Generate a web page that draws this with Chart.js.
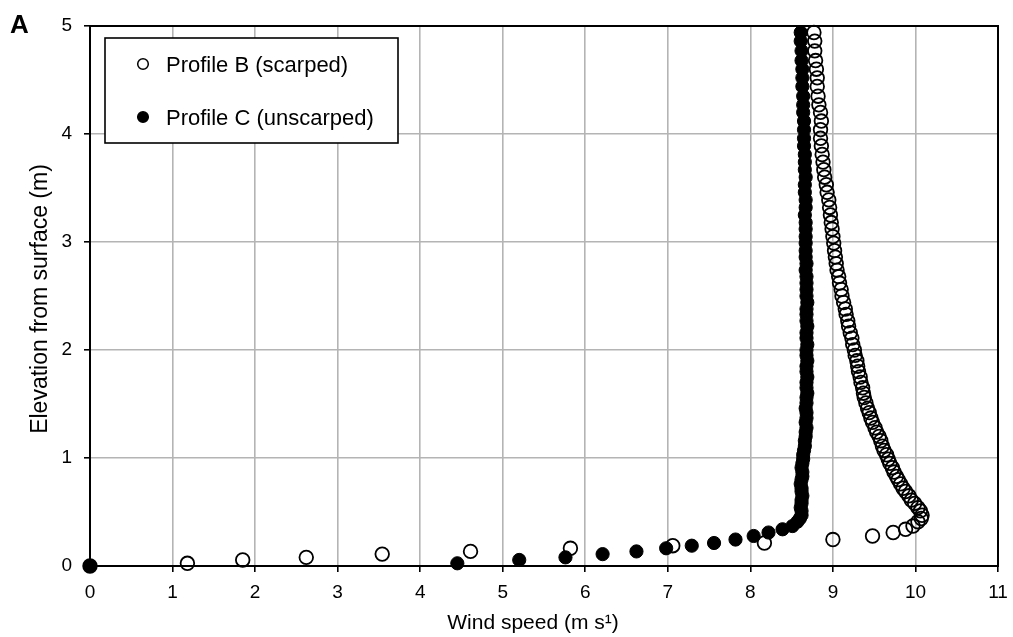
<!DOCTYPE html>
<html>
<head>
<meta charset="utf-8">
<script src="https://cdn.jsdelivr.net/npm/chart.js@4/dist/chart.umd.min.js"></script>
<style>
  html, body { margin: 0; padding: 0; background: #fff; }
  #wrap { width: 1013px; height: 637px; }
</style>
</head>
<body>
<div id="wrap"><canvas id="c" width="1013" height="637"></canvas></div>
<script>
// Measurement heights above the surface (m), shared by both profiles
const heights = [0, 0.025, 0.056, 0.08, 0.11, 0.135, 0.164, 0.188, 0.213, 0.245, 0.278, 0.31, 0.34, 0.37,
  0.41, 0.44, 0.47, 0.51, 0.54, 0.58, 0.61, 0.65, 0.69, 0.72, 0.76, 0.80, 0.83, 0.87, 0.91, 0.95,
  0.99, 1.03, 1.07, 1.11, 1.16, 1.20, 1.24, 1.28, 1.33, 1.37, 1.42, 1.46, 1.51, 1.56, 1.60, 1.65,
  1.70, 1.75, 1.80, 1.85, 1.90, 1.95, 2.00, 2.05, 2.11, 2.16, 2.22, 2.27, 2.33, 2.38, 2.44, 2.50,
  2.56, 2.62, 2.68, 2.74, 2.80, 2.86, 2.92, 2.99, 3.05, 3.12, 3.18, 3.25, 3.32, 3.39, 3.46, 3.53,
  3.60, 3.67, 3.74, 3.81, 3.89, 3.96, 4.04, 4.12, 4.20, 4.27, 4.35, 4.44, 4.52, 4.60, 4.68, 4.77,
  4.86, 4.94];

// Wind speed (m/s), Profile B (scarped)
const speedB = [0, 1.18, 1.85, 2.62, 3.54, 4.61, 5.82, 7.06, 8.17, 9.00, 9.48, 9.73, 9.88, 9.97,
  10.03, 10.07, 10.08, 10.06, 10.03, 9.99, 9.95, 9.92, 9.88, 9.85, 9.82, 9.79, 9.77, 9.74, 9.72, 9.69,
  9.67, 9.65, 9.62, 9.60, 9.58, 9.56, 9.53, 9.51, 9.48, 9.46, 9.44, 9.42, 9.40, 9.38, 9.37, 9.36,
  9.34, 9.33, 9.31, 9.30, 9.29, 9.27, 9.26, 9.24, 9.23, 9.21, 9.19, 9.18, 9.16, 9.15, 9.13, 9.11,
  9.10, 9.08, 9.07, 9.05, 9.04, 9.03, 9.02, 9.01, 9.00, 8.99, 8.98, 8.97, 8.96, 8.95, 8.93, 8.92,
  8.90, 8.89, 8.88, 8.87, 8.86, 8.85, 8.85, 8.86, 8.85, 8.83, 8.82, 8.81, 8.81, 8.80, 8.79, 8.78,
  8.78, 8.77];

// Wind speed (m/s), Profile C (unscarped)
const speedC = [0, 4.45, 5.20, 5.76, 6.21, 6.62, 6.98, 7.29, 7.56, 7.82, 8.04, 8.22, 8.39, 8.51,
  8.57, 8.60, 8.62, 8.62, 8.61, 8.62, 8.62, 8.63, 8.62, 8.62, 8.61, 8.62, 8.63, 8.63, 8.62, 8.63,
  8.64, 8.64, 8.65, 8.66, 8.66, 8.67, 8.67, 8.68, 8.67, 8.68, 8.68, 8.67, 8.68, 8.68, 8.69, 8.68,
  8.68, 8.69, 8.68, 8.68, 8.69, 8.68, 8.68, 8.69, 8.68, 8.68, 8.69, 8.68, 8.68, 8.68, 8.69, 8.68,
  8.68, 8.68, 8.68, 8.67, 8.68, 8.67, 8.67, 8.67, 8.67, 8.67, 8.67, 8.66, 8.67, 8.67, 8.66, 8.66,
  8.67, 8.66, 8.66, 8.66, 8.65, 8.65, 8.65, 8.65, 8.64, 8.64, 8.64, 8.63, 8.63, 8.63, 8.62, 8.62,
  8.61, 8.61];

const seriesLabels = ['Profile B (scarped)', 'Profile C (unscarped)'];
const xTitle = 'Wind speed (m s\u00B9)';
const yTitle = 'Elevation from surface (m)';
const panelLetter = 'A';

const FONT = '"Liberation Sans", Arial, Helvetica, sans-serif';

const toPoints = (xs) => xs.map((x, i) => ({ x: x, y: heights[i] }));

// Black frame round the plotting area
const framePlugin = {
  id: 'frame',
  beforeDatasetsDraw(chart) {
    const a = chart.chartArea, ctx = chart.ctx;
    ctx.save();
    ctx.strokeStyle = '#000';
    ctx.lineWidth = 2;
    ctx.strokeRect(a.left, a.top, a.right - a.left, a.bottom - a.top);
    ctx.restore();
  }
};

// Axis titles, panel letter and the boxed legend
const annotatePlugin = {
  id: 'annotate',
  afterDraw(chart) {
    const ctx = chart.ctx;
    ctx.save();
    ctx.fillStyle = '#000';

    ctx.font = 'bold 26px ' + FONT;
    ctx.textAlign = 'left';
    ctx.textBaseline = 'alphabetic';
    ctx.fillText(panelLetter, 10, 33);

    ctx.font = '21px ' + FONT;
    ctx.textAlign = 'center';
    ctx.fillText(xTitle, 533, 629);

    ctx.save();
    ctx.font = '23px ' + FONT;
    ctx.translate(47, 299);
    ctx.rotate(-Math.PI / 2);
    ctx.fillText(yTitle, 0, 0);
    ctx.restore();

    // legend box
    const bx = 105, by = 38, bw = 293, bh = 105;
    ctx.fillStyle = '#fff';
    ctx.fillRect(bx, by, bw, bh);
    ctx.strokeStyle = '#000';
    ctx.lineWidth = 1.6;
    ctx.strokeRect(bx, by, bw, bh);

    const rows = [72, 125];
    ctx.font = '22px ' + FONT;
    ctx.textAlign = 'left';
    chart.data.datasets.forEach((ds, i) => {
      const cy = rows[i] - 8;
      ctx.beginPath();
      ctx.arc(143, cy, 5.3, 0, Math.PI * 2);
      ctx.lineWidth = 1.5;
      ctx.strokeStyle = ds.borderColor;
      if (ds.backgroundColor !== 'rgba(0,0,0,0)') {
        ctx.fillStyle = ds.backgroundColor;
        ctx.fill();
      }
      ctx.stroke();
      ctx.fillStyle = '#000';
      ctx.fillText(ds.label, 166, rows[i]);
    });
    ctx.restore();
  }
};

const tickFont = { family: FONT, size: 19 };

new Chart(document.getElementById('c'), {
  type: 'scatter',
  data: {
    datasets: [
      {
        label: seriesLabels[0],
        data: toPoints(speedB),
        pointStyle: 'circle',
        pointRadius: 6.8,
        pointBorderWidth: 1.8,
        borderColor: '#000',
        backgroundColor: 'rgba(0,0,0,0)',
        clip: false
      },
      {
        label: seriesLabels[1],
        data: toPoints(speedC),
        pointStyle: 'circle',
        pointRadius: 6.6,
        pointBorderWidth: 1,
        borderColor: '#000',
        backgroundColor: '#000',
        clip: false
      }
    ]
  },
  options: {
    responsive: false,
    devicePixelRatio: 1,
    animation: false,
    events: [],
    layout: { padding: { top: 26, right: 15, left: 0, bottom: 0 } },
    plugins: {
      legend: { display: false },
      tooltip: { enabled: false },
      title: { display: false }
    },
    scales: {
      x: {
        type: 'linear',
        min: 0,
        max: 11,
        afterFit(scale) {
          scale.height = 71;
          scale.paddingLeft = 0;
          scale.paddingRight = 0;
        },
        ticks: { stepSize: 1, font: tickFont, color: '#000', padding: 9, maxRotation: 0 },
        grid: { color: '#b4b4b4', lineWidth: 1.6, tickColor: '#000', tickLength: 6, tickWidth: 1.6 },
        border: { color: '#000', width: 2 }
      },
      y: {
        type: 'linear',
        min: 0,
        max: 5,
        afterFit(scale) {
          scale.width = 90;
          scale.paddingTop = 0;
          scale.paddingBottom = 0;
        },
        ticks: { stepSize: 1, font: tickFont, color: '#000', padding: 12 },
        grid: { color: '#b4b4b4', lineWidth: 1.6, tickColor: '#000', tickLength: 6, tickWidth: 1.6 },
        border: { color: '#000', width: 2 }
      }
    }
  },
  plugins: [framePlugin, annotatePlugin]
});
</script>
</body>
</html>
